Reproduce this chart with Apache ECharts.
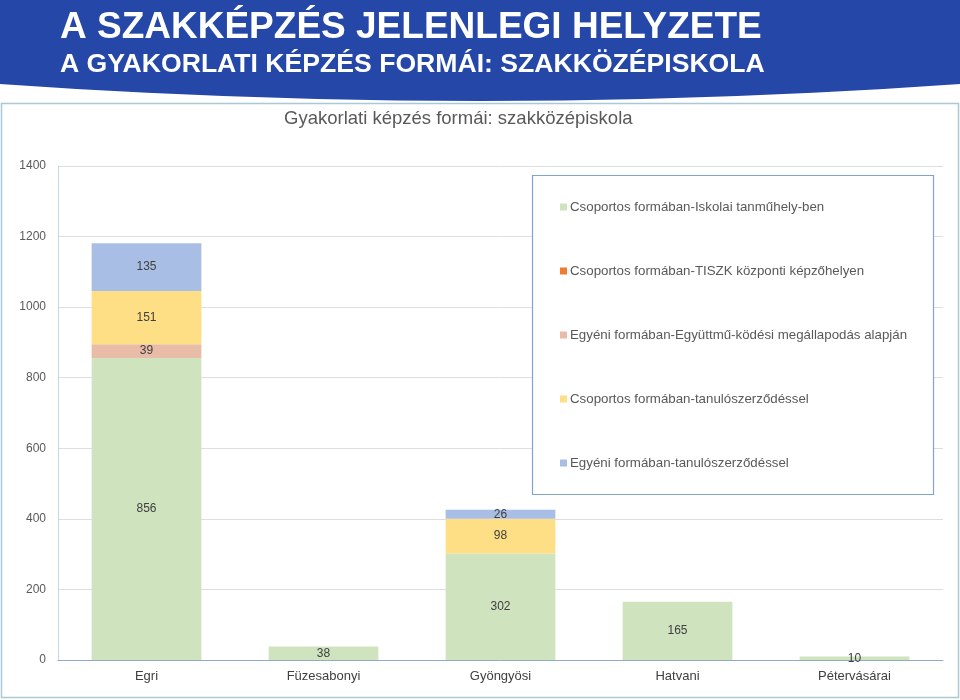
<!DOCTYPE html>
<html>
<head>
<meta charset="utf-8">
<style>
  html, body { margin: 0; padding: 0; background: #fff; }
  #chart { width: 960px; height: 700px; }
</style>
<script src="https://cdn.jsdelivr.net/npm/echarts@6/dist/echarts.min.js"></script>
</head>
<body>
<div id="chart"></div>
<script>
// iskolák (kategóriák)
const categories = ['Egri', 'Füzesabonyi', 'Gyöngyösi', 'Hatvani', 'Pétervásárai'];
const seriesNames = [
  'Csoportos formában-Iskolai tanműhely-ben',
  'Csoportos formában-TISZK központi képzőhelyen',
  'Egyéni formában-Együttmű-ködési megállapodás alapján',
  'Csoportos formában-tanulószerződéssel',
  'Egyéni formában-tanulószerződéssel'
];
const iskolaiTanmuhely = [856, 38, 302, 165, 10];
const tiszkKozponti = [null, null, null, null, null];
const egyuttmukodesi = [39, null, null, null, null];
const csoportosTanulo = [151, null, 98, null, null];
const egyeniTanulo = [135, null, 26, null, null];
const yTicks = [0, 200, 400, 600, 800, 1000, 1200, 1400];

const colors = ['#cfe3bf', '#ed7d31', '#e8bca6', '#fedf85', '#a9bee4'];
const allData = [iskolaiTanmuhely, tiszkKozponti, egyuttmukodesi, csoportosTanulo, egyeniTanulo];

const font = "'Liberation Sans', Arial, sans-serif";

let chart = echarts.init(document.getElementById('chart'));

let option = {
  animation: false,
  textStyle: { fontFamily: font },
  graphic: [
    // kék fejléc, ívelt alsó éllel (nagy kör alsó része)
    {
      type: 'circle', z: 0,
      shape: { cx: 480, cy: -6684, r: 6785 },
      style: { fill: '#2447a8' }
    },
    {
      type: 'text', left: 60, top: 9, z: 1,
      style: { text: 'A SZAKKÉPZÉS JELENLEGI HELYZETE', fill: '#fff', font: "bold 37px 'Liberation Sans', Arial" }
    },
    {
      type: 'text', left: 60, top: 51, z: 1,
      style: { text: 'A GYAKORLATI KÉPZÉS FORMÁI: SZAKKÖZÉPISKOLA', fill: '#fff', font: "bold 26.6px 'Liberation Sans', Arial" }
    },
    // diagram keret
    {
      type: 'rect', z: 0,
      shape: { x: 1.5, y: 103.5, width: 957, height: 594 },
      style: { fill: 'none', stroke: '#a9c8d8', lineWidth: 1.5 }
    },
    // jelmagyarázat doboza
    {
      type: 'rect', z: 5,
      shape: { x: 532.5, y: 175.5, width: 401, height: 319 },
      style: { fill: '#fff', stroke: '#7fa5c8', lineWidth: 1.2 }
    }
  ],
  title: {
    text: 'Gyakorlati képzés formái: szakközépiskola',
    left: 279, top: 104,
    textStyle: { color: '#595959', fontSize: 18.5, fontWeight: 'normal', fontFamily: font }
  },
  legend: {
    orient: 'vertical',
    left: 555, top: 194, z: 10,
    icon: 'rect', itemWidth: 7, itemHeight: 7,
    itemGap: 48,
    textStyle: { color: '#595959', fontSize: 13.3, lineHeight: 16, fontFamily: font, padding: [0, 0, 0, -2] },
    data: seriesNames
  },
  grid: { left: 58, right: 17, top: 166, bottom: 40 },
  xAxis: {
    type: 'category',
    data: categories,
    axisLine: { lineStyle: { color: '#8eabcc', width: 1 } },
    axisTick: { show: false },
    axisLabel: { color: '#404040', fontSize: 13, margin: 10 }
  },
  yAxis: {
    type: 'value',
    min: yTicks[0], max: yTicks[yTicks.length - 1], interval: 200,
    axisLine: { show: true, lineStyle: { color: '#c3d8e4' } },
    axisTick: { show: false },
    axisLabel: { color: '#595959', fontSize: 12, margin: 12, formatter: v => String(v) },
    splitLine: { lineStyle: { color: '#dedede' } }
  },
  series: seriesNames.map((name, i) => ({
    name: name,
    type: 'bar',
    stack: 'total',
    barWidth: '62%',
    data: allData[i],
    itemStyle: { color: colors[i] },
    label: {
      show: true,
      position: 'inside',
      color: '#404040',
      fontSize: 12,
      formatter: p => (p.value == null ? '' : p.value)
    }
  }))
};

chart.setOption(option);
window.addEventListener('resize', () => {
  chart.resize();
});
</script>
</body>
</html>
